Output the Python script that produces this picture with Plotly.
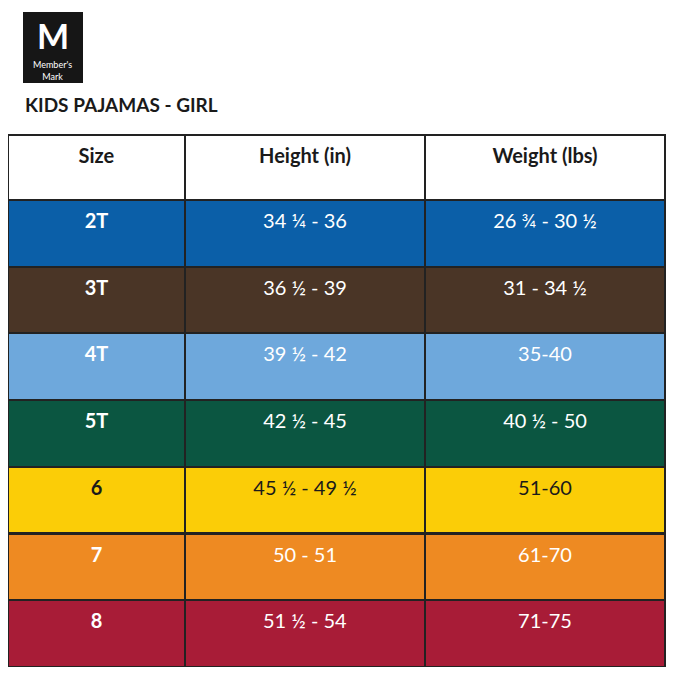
import plotly.graph_objects as go

headers = ["Size", "Height (in)", "Weight (lbs)"]
sizes = ["2T", "3T", "4T", "5T", "6", "7", "8"]
heights = ["34 ¼ - 36", "36 ½ - 39", "39 ½ - 42", "42 ½ - 45", "45 ½ - 49 ½", "50 - 51", "51 ½ - 54"]
weights = ["26 ¾ - 30 ½", "31 - 34 ½", "35-40", "40 ½ - 50", "51-60", "61-70", "71-75"]
row_colors = ["#0b5fa8", "#4a3526", "#6ea8dc", "#0b5641", "#fbcd07", "#ee8a22", "#a81c37"]
text_colors = ["white", "white", "white", "white", "#1a1a1a", "white", "white"]

W, H = 686, 682
OFF = 8  # page body margin
x0, x1, ytop, ybot = 8 - OFF, 665 - OFF, 135 - OFF, 667 - OFF

fig = go.Figure(go.Table(
    domain=dict(x=[x0 / W, x1 / W], y=[1 - ybot / H, 1 - ytop / H]),
    columnwidth=[177, 240, 240],
    header=dict(values=[f"<br><b>{h}</b>" for h in headers], height=65, align="center",
                fill_color="white", line=dict(color="#222", width=2),
                font=dict(family="Lato", size=20, color="#1a1a1a")),
    cells=dict(values=[[f"<br><b>{s}</b>" for s in sizes],
                       ["<br>" + v for v in heights],
                       ["<br>" + v for v in weights]], height=66.7,
               align="center", fill_color=[row_colors] * 3,
               line=dict(color="#222", width=2),
               font=dict(family="Lato", size=20, color=[text_colors] * 3)),
))

fig.add_shape(type="rect", xref="paper", yref="paper", x0=(23 - OFF) / W, x1=(83 - OFF) / W,
              y0=1 - (83 - OFF) / H, y1=1 - (12 - OFF) / H, fillcolor="#161616", line=dict(width=0))
fig.add_annotation(text="<b>M</b>", xref="paper", yref="paper", x=(53 - OFF) / W, y=1 - (36 - OFF) / H,
                   xanchor="center", yanchor="middle",
                   showarrow=False, font=dict(family="Lato", size=34, color="white"))
fig.add_annotation(text="Member's<br>Mark", xref="paper", yref="paper", x=(53 - OFF) / W, y=1 - (70 - OFF) / H,
                   xanchor="center", yanchor="middle",
                   showarrow=False, font=dict(family="Lato", size=9, color="white"))
fig.add_annotation(text="<b>KIDS PAJAMAS - GIRL</b>", xref="paper", yref="paper",
                   x=(23 - OFF) / W, y=1 - (105 - OFF) / H, xanchor="left", yanchor="middle", showarrow=False,
                   font=dict(family="Lato", size=19, color="#1a1a1a"))

fig.update_layout(width=W, height=H, margin=dict(l=0, r=0, t=0, b=0),
                  paper_bgcolor="white", plot_bgcolor="white")
fig.write_html("out.html")
